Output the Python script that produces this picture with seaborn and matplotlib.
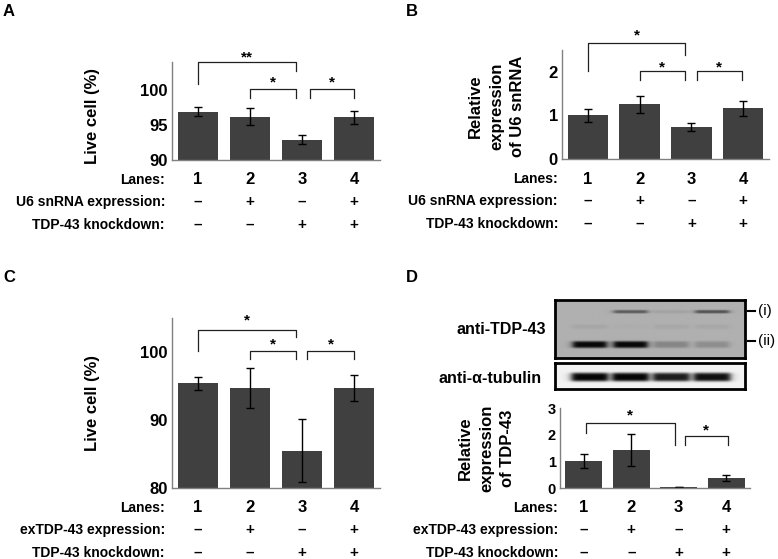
import numpy as np
import pandas as pd
import matplotlib
matplotlib.use('Agg')
import matplotlib.pyplot as plt
import seaborn as sns

plt.rcParams['font.family'] = ['Liberation Sans', 'DejaVu Sans']
plt.rcParams['font.weight'] = 'bold'

# lane table
lanes = ['1', '2', '3', '4']
u6_expr = ['–', '+', '–', '+']
ex_expr = ['–', '+', '–', '+']
tdp_kd = ['–', '–', '+', '+']

# A - live cells with U6 snRNA expression
live_u6 = [96.9, 96.2, 92.9, 96.1]
live_u6_err = [0.65, 1.25, 0.6, 0.95]
# B - relative U6 snRNA expression
u6_rel = [1.0, 1.25, 0.73, 1.16]
u6_rel_err = [0.14, 0.2, 0.09, 0.17]
# C - live cells with exTDP-43 expression
live_ex = [95.4, 94.7, 85.5, 94.7]
live_ex_err = [0.95, 2.95, 4.65, 1.85]
# D - relative TDP-43 expression
tdp_rel = [1.0, 1.41, 0.04, 0.37]
tdp_rel_err = [0.26, 0.6, 0.01, 0.12]

# significance brackets: x1, x2, top, left foot, right foot, label, label y
brk_a = [(0, 1.88, 104.0, 100.8, 102.7, '**', 105.2),
         (1, 1.88, 100.1, 98.8, 98.8, '*', 101.6),
         (2.15, 3.0, 100.1, 98.8, 98.8, '*', 101.6)]
brk_b = [(0, 1.88, 2.65, 2.02, 2.39, '*', 2.92),
         (1, 1.88, 2.02, 1.81, 1.81, '*', 2.2),
         (2.1, 2.97, 2.02, 1.81, 1.81, '*', 2.2)]
brk_c = [(0, 1.88, 103.3, 100.1, 102.2, '*', 105.2),
         (1, 1.88, 100.2, 98.9, 98.9, '*', 101.7),
         (2.1, 3.0, 100.2, 98.9, 98.9, '*', 101.7)]
brk_d = [(0.04, 1.92, 2.44, 2.06, 1.6, '*', 2.87),
         (2.13, 3.03, 1.94, 1.6, 1.6, '*', 2.31)]

# western blot band intensities per lane (0 = none, 1 = strong)
band_i = [0.0, 0.5, 0.08, 0.55]
band_ii = [1.0, 1.0, 0.25, 0.2]
band_faint = [0.06, 0.02, 0.05, 0.05]
tubulin = [1.0, 1.0, 0.9, 0.95]

BAR = '#404040'
SPINE = '#808080'
W, H = 778, 559


def rect(l, t, r, b):
    return [l / W, 1 - b / H, (r - l) / W, (b - t) / H]


def bar_panel(ax, vals, errs, ylim, yticks, ylabel, lab_xy, brackets, row1, row1_name,
              lab_dx, tick_fs=12):
    df = pd.DataFrame({'lane': lanes, 'val': vals})
    sns.barplot(data=df, x='lane', y='val', color=BAR, saturation=1, width=0.78,
                errorbar=None, ax=ax)
    ax.errorbar(range(4), vals, yerr=errs, fmt='none', ecolor='black',
                elinewidth=1, capsize=3, capthick=1)
    ax.set_xlim(-0.5, 3.5)
    ax.set_ylim(*ylim)
    ax.set_yticks(yticks)
    ax.set_xticks([])
    ax.set_xlabel('')
    ax.set_ylabel('')
    ax.tick_params(axis='y', length=0, pad=3, labelsize=tick_fs)
    for t in ax.get_yticklabels():
        t.set_fontweight('bold')
    for s in ['top', 'right']:
        ax.spines[s].set_visible(False)
    for s in ['left', 'bottom']:
        ax.spines[s].set_color(SPINE)
        ax.spines[s].set_linewidth(1)
    ax.patch.set_alpha(0)
    ax.text(lab_xy[0], lab_xy[1], ylabel, transform=ax.transAxes, rotation=90,
            ha='center', va='center', fontsize=12, fontweight='bold',
            linespacing=1.5, multialignment='center')

    for x1, x2, top, f1, f2, lab, ly in brackets:
        ax.plot([x1, x1, x2, x2], [f1, top, top, f2], color='#202020', lw=0.9,
                clip_on=False)
        ax.annotate(lab, ((x1 + x2) / 2, ly), xytext=(0, -8),
                    textcoords='offset pixels', ha='center', va='baseline',
                    fontsize=11, fontweight='bold', annotation_clip=False)

    rows = [('Lanes:', lanes, 20, 12), (row1_name, row1, 42, 11),
            ('TDP-43 knockdown:', tdp_kd, 65, 11)]
    for name, marks, dy, fs in rows:
        ax.annotate(name, (0, 0), xycoords='axes fraction', xytext=(lab_dx, -dy),
                    textcoords='offset pixels', ha='right', va='center',
                    fontsize=10, fontweight='bold', annotation_clip=False)
        for i, m in enumerate(marks):
            ax.annotate(m, (i, 0), xycoords=('data', 'axes fraction'),
                        xytext=(0, -dy), textcoords='offset pixels', ha='center',
                        va='center', fontsize=fs, fontweight='bold',
                        annotation_clip=False)


def blot(ax, rows, xlim, bg, dark):
    xs = np.linspace(xlim[0], xlim[1], 600)
    ys = np.linspace(0, 1, 160)
    X, Y = np.meshgrid(xs, ys)
    dens = np.zeros_like(X)
    for amps, y0, sy, hw in rows:
        for i, a in enumerate(amps):
            px = 1 / (1 + ((X - i) / hw) ** 10)
            py = np.exp(-((Y - y0) / sy) ** 4)
            dens += a * px * py
    img = bg - (bg - dark) * np.clip(dens, 0, 1)
    ax.imshow(img, cmap='gray', vmin=0, vmax=1, aspect='auto',
              extent=(xlim[0], xlim[1], 1, 0), interpolation='bilinear')
    ax.set_xticks([])
    ax.set_yticks([])
    for s in ax.spines.values():
        s.set_linewidth(2)
        s.set_color('black')


fig = plt.figure(figsize=(W / 100, H / 100), dpi=100)

ax_a = fig.add_axes(rect(172, 62, 380, 160))
bar_panel(ax_a, live_u6, live_u6_err, (90, 104), [90, 95, 100], 'Live cell (%)',
          (-0.38, 0.45), brk_a, u6_expr, 'U6 snRNA expression:', -7)

ax_b = fig.add_axes(rect(562, 50, 769, 159))
bar_panel(ax_b, u6_rel, u6_rel_err, (0, 2.5), [0, 1, 2],
          'Relative\nexpression\nof U6 snRNA', (-0.315, 0.48), brk_b, u6_expr,
          'U6 snRNA expression:', -4)

ax_c = fig.add_axes(rect(172, 318, 380, 488))
bar_panel(ax_c, live_ex, live_ex_err, (80, 105), [80, 90, 100], 'Live cell (%)',
          (-0.38, 0.5), brk_c, ex_expr, 'exTDP-43 expression:', -7)

ax_d = fig.add_axes(rect(560, 408, 750, 488))
bar_panel(ax_d, tdp_rel, tdp_rel_err, (0, 3), [0, 1, 2, 3],
          'Relative\nexpression\nof TDP-43', (-0.386, 0.5), brk_d, ex_expr,
          'exTDP-43 expression:', -2, tick_fs=10.5)

# western blots
blot_xlim = (-0.85, 3.8)
ax_w1 = fig.add_axes(rect(555, 300, 745, 358))
blot(ax_w1, [(band_i, 0.2, 0.03, 0.42), (band_faint, 0.46, 0.04, 0.42),
             (band_ii, 0.77, 0.06, 0.42)], blot_xlim, 0.69, 0.03)
ax_w2 = fig.add_axes(rect(555, 363, 745, 389))
blot(ax_w2, [(tubulin, 0.54, 0.17, 0.45)], blot_xlim, 0.95, 0.02)

ax_w1.text(-0.047, 0.485, 'anti-TDP-43', transform=ax_w1.transAxes, ha='right',
           va='center', fontsize=11.5, fontweight='bold')
ax_w2.text(-0.068, 0.42, 'anti-α-tubulin', transform=ax_w2.transAxes, ha='right',
           va='center', fontsize=11.5, fontweight='bold')
for yf, lab in [(0.816, '(i)'), (0.285, '(ii)')]:
    ax_w1.plot([1.016, 1.053], [yf, yf], color='black', lw=1.5,
               transform=ax_w1.transAxes, clip_on=False)
    ax_w1.text(1.068, yf, lab, transform=ax_w1.transAxes, ha='left', va='center',
               fontsize=11, fontweight='normal')

# panel letters
for x, y, s in [(3, 4, 'A'), (406, 4, 'B'), (3, 270, 'C'), (406, 270, 'D')]:
    fig.text(x / W, 1 - y / H, s, ha='left', va='top', fontsize=12,
             fontweight='bold')

fig.savefig('out.png', dpi=100)
